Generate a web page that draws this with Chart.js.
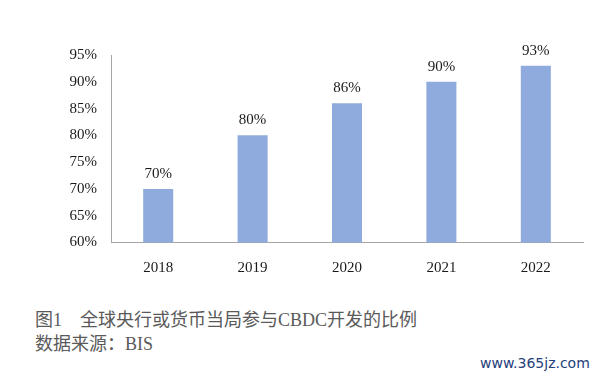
<!DOCTYPE html>
<html lang="zh">
<head>
<meta charset="UTF-8">
<title>CBDC</title>
<script src="https://cdn.jsdelivr.net/npm/chart.js@4.4.0/dist/chart.umd.min.js"></script>
<style>
  body { margin: 0; background: #fff; width: 602px; height: 379px; position: relative; overflow: hidden; }
  #wrap { position: absolute; left: 0; top: 0; width: 602px; height: 290px; }
  .cap { position: absolute; left: 35px; font-family: "Liberation Serif", "Noto Sans CJK SC", serif; font-size: 18px; color: #5a5a5a; white-space: nowrap; }
  #mark { position: absolute; left: 480px; top: 355px; font-family: "DejaVu Sans", sans-serif; font-size: 14px; color: #24407a; }
</style>
</head>
<body>
<div id="wrap"><canvas id="chart"></canvas></div>
<div class="cap" style="top:305px">图1　全球央行或货币当局参与CBDC开发的比例</div>
<div class="cap" style="top:329px">数据来源：BIS</div>
<div id="mark">www.365jz.com</div>
<script>
const years = ['2018', '2019', '2020', '2021', '2022'];
const shares = [70, 80, 86, 90, 93];
const yTicks = [60, 65, 70, 75, 80, 85, 90, 95];

const serif = 'Liberation Serif';

// value labels on top of the bars
const topLabels = {
  id: 'topLabels',
  afterDatasetsDraw(chart) {
    const ctx = chart.ctx;
    const meta = chart.getDatasetMeta(0);
    ctx.save();
    ctx.font = '15px "' + serif + '"';
    ctx.fillStyle = '#1a1a1a';
    ctx.textAlign = 'center';
    ctx.textBaseline = 'middle';
    meta.data.forEach((bar, i) => {
      ctx.fillText(shares[i] + '%', bar.x, bar.y - 15);
    });
    ctx.restore();
  }
};

const ctx = document.getElementById('chart').getContext('2d');
new Chart(ctx, {
  type: 'bar',
  data: {
    labels: years,
    datasets: [{
      data: shares,
      backgroundColor: '#8FAADC',
      barPercentage: 0.318,
      categoryPercentage: 1
    }]
  },
  options: {
    responsive: true,
    maintainAspectRatio: false,
    animation: false,
    layout: { padding: { top: 55, right: 19, left: 0, bottom: 0 } },
    plugins: { legend: { display: false }, tooltip: { enabled: false } },
    scales: {
      x: {
        grid: { display: false, drawTicks: false },
        border: { display: true, color: '#a6a6a6', width: 1 },
        ticks: { color: '#1a1a1a', font: { family: serif, size: 15 }, padding: 17 },
        afterFit(scale) { scale.height = 47.5; }
      },
      y: {
        min: 60,
        max: 95,
        grid: { display: false, drawTicks: false },
        border: { display: true, color: '#a6a6a6', width: 1 },
        afterBuildTicks(scale) { scale.ticks = yTicks.map(v => ({ value: v })); },
        ticks: {
          color: '#1a1a1a',
          font: { family: serif, size: 15 },
          padding: 14,
          callback: v => v + '%'
        },
        afterFit(scale) { scale.width = 111; }
      }
    }
  },
  plugins: [topLabels]
});
</script>
</body>
</html>
